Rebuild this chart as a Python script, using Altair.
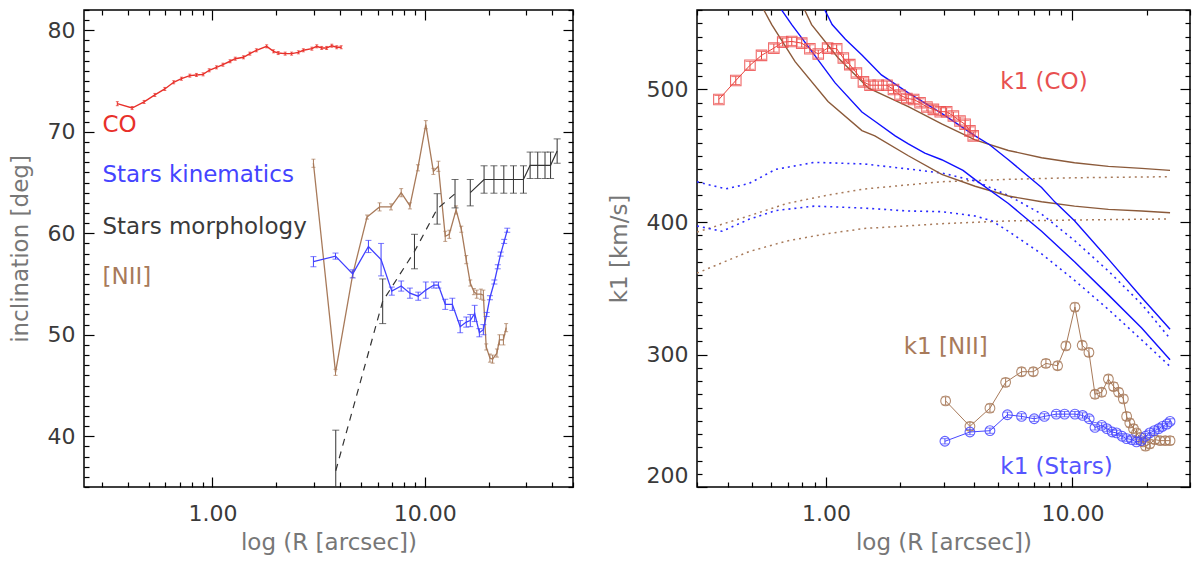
import pandas as pd
import altair as alt

FONT = "DejaVu Sans"

# ---------------- left panel : inclination ----------------
co_r = [0.356, 0.418, 0.476, 0.535, 0.596, 0.656, 0.714, 0.782, 0.840, 0.903, 0.965, 1.044,
        1.12, 1.21, 1.28, 1.40, 1.50, 1.61, 1.80, 1.94, 2.04, 2.20, 2.36, 2.54, 2.68, 2.94,
        3.10, 3.27, 3.45, 3.65, 3.85, 4.04]
co_inc = [72.77, 72.34, 72.94, 73.63, 74.22, 74.88, 75.23, 75.53, 75.60, 75.66, 76.06, 76.35,
          76.61, 76.95, 77.20, 77.34, 77.70, 78.03, 78.42, 77.93, 77.76, 77.70, 77.70, 77.83,
          78.03, 78.19, 78.42, 78.26, 78.26, 78.48, 78.33, 78.33]
co_err = [0.2, 0.15, 0.15, 0.15, 0.15, 0.15, 0.15, 0.15, 0.15, 0.15, 0.15, 0.15, 0.15, 0.15,
          0.15, 0.15, 0.15, 0.15, 0.15, 0.15, 0.15, 0.15, 0.15, 0.15, 0.15, 0.15, 0.15, 0.15,
          0.15, 0.15, 0.15, 0.15]

nii_r = [2.99, 3.80, 4.58, 5.35, 6.13, 6.94, 7.75, 8.52, 9.29, 10.12, 10.99, 11.6, 12.5, 13.06,
         14.06, 14.88, 15.7, 16.4, 17.06, 17.6, 18.4, 18.9, 19.5, 20.3, 20.9, 21.9, 22.5, 23.5, 24.2]
nii_inc = [66.9, 46.3, 55.95, 61.6, 62.6, 62.6, 64.0, 62.7, 66.45, 70.7, 66.1, 66.6, 59.7, 59.9,
           62.3, 60.4, 57.4, 55.1, 54.25, 54.0, 54.0, 53.9, 48.8, 47.7, 47.6, 48.2, 49.5, 49.5, 50.7]
nii_err = [0.4, 0.3, 0.3, 0.2, 0.4, 0.3, 0.4, 0.3, 0.3, 0.4, 0.3, 0.5, 0.5, 0.4, 0.4, 0.3, 0.4,
           0.3, 0.3, 0.4, 0.5, 0.5, 0.3, 0.4, 0.4, 0.4, 0.5, 0.5, 0.4]

kin_r = [2.99, 3.80, 4.58, 5.43, 6.23, 7.0, 7.75, 8.52, 9.32, 10.12, 11.05, 11.6, 12.5, 13.5,
         14.7, 15.7, 16.4, 17.2, 18.1, 18.9, 19.6, 20.3, 21.3, 22.1, 22.8, 23.7, 24.5]
kin_inc = [57.2, 57.75, 56.0, 58.7, 57.4, 54.3, 54.8, 54.1, 53.8, 54.4, 54.9, 54.9, 53.0, 53.0,
           50.8, 51.25, 51.4, 52.1, 50.2, 50.5, 52.0, 53.65, 55.2, 56.7, 57.95, 59.2, 60.3]
kin_err = [0.5, 0.3, 0.4, 0.6, 1.6, 0.4, 0.5, 0.5, 0.4, 0.8, 0.3, 0.3, 0.5, 0.6, 0.6, 0.5, 0.6,
           0.8, 0.4, 0.5, 0.2, 0.2, 0.2, 0.2, 0.2, 0.2, 0.2]

mor_r = [3.81, 6.34, 8.95, 11.45, 13.9, 16.4, 19.05, 21.2, 23.6, 26.2, 29.2, 31.4, 34.1, 36.9,
         39.2, 42.1]
mor_inc = [36.6, 53.3, 58.2, 62.4, 63.9, 64.0, 65.3, 65.3, 65.3, 65.3, 65.3, 66.7, 66.7, 66.7,
           66.7, 68.1]
mor_err = [4.0, 2.2, 1.7, 1.5, 1.4, 1.3, 1.35, 1.35, 1.35, 1.35, 1.35, 1.3, 1.3, 1.3, 1.3, 1.2]

left_labels = ["CO", "Stars kinematics", "Stars morphology", "[NII]"]
left_label_y = [70.7, 65.7, 60.6, 55.7]
left_label_col = ["#e8302a", "#4444ff", "#3a3a3a", "#a87a5a"]

# ---------------- right panel : k1 ----------------
kco_r = [0.368, 0.431, 0.492, 0.548, 0.615, 0.668, 0.727, 0.798, 0.861, 0.931, 1.016, 1.106,
         1.177, 1.25, 1.33, 1.42, 1.51, 1.63, 1.77, 1.88, 2.0, 2.13, 2.27, 2.41, 2.57, 2.73,
         2.91, 3.09, 3.29, 3.50, 3.67, 3.84, 3.96]
kco_v = [492.5, 506.75, 518.25, 525.75, 531.25, 535.75, 536.25, 535.0, 530.75, 526.75, 531.25,
         530.75, 523.75, 518.75, 512.5, 505.75, 503.25, 503.25, 503.25, 500.0, 495.75, 493.25,
         492.5, 490.0, 486.75, 485.0, 483.25, 483.25, 480.0, 476.25, 473.75, 468.75, 465.0]

knii_r = [3.06, 3.84, 4.63, 5.36, 6.22, 6.94, 7.81, 8.71, 9.41, 10.24, 10.96, 11.67, 12.35, 13.15,
          14.0, 14.7, 15.4, 16.1, 16.6, 17.1, 17.7, 18.2, 18.8, 19.4, 19.8, 20.6, 21.6, 22.7,
          23.8, 24.9]
knii_v = [265.0, 245.8, 259.5, 279.0, 287.0, 287.0, 293.3, 291.5, 306.5, 335.8, 307.0, 301.6,
          270.0, 271.5, 281.5, 275.8, 271.5, 266.5, 253.3, 248.3, 244.0, 240.8, 237.5, 234.0,
          230.8, 232.5, 235.8, 235.0, 235.0, 235.0]

kst_r = [3.04, 3.84, 4.63, 5.45, 6.22, 7.0, 7.7, 8.6, 9.3, 10.24, 11.0, 11.7, 12.35, 13.15, 13.8,
         14.5, 15.1, 15.9, 16.6, 17.4, 18.2, 19.0, 19.8, 20.6, 21.5, 22.4, 23.2, 24.2, 24.9]
kst_v = [234.5, 241.5, 242.5, 254.5, 253.3, 251.5, 253.3, 255.0, 255.0, 255.0, 254.0, 251.5,
         245.0, 246.5, 244.0, 241.5, 240.8, 238.3, 236.5, 235.8, 234.0, 235.0, 238.3, 240.8,
         242.5, 244.0, 245.8, 247.5, 249.5]

# model curves (solid)
bu_r = [0.99, 1.06, 1.2, 1.4, 1.68, 2.16, 2.95, 4.03, 4.6, 5.5, 7.5, 8.5, 10.2, 14.0, 19.1, 24.9]
bu_v = [560, 549, 538, 526, 511, 497.5, 482, 465, 458.5, 447, 426, 415, 401, 372, 343, 319]
bl_r = [0.65, 0.727, 0.875, 1.09, 1.4, 1.58, 1.91, 2.16, 2.52, 2.95, 3.6, 4.03, 5.5, 7.5, 10.2,
        14.0, 19.1, 24.9]
bl_v = [562, 549, 529, 505, 483, 476, 465, 459, 452, 447, 439, 432, 414, 393, 370, 345, 320, 296]
nu_r = [0.82, 0.875, 1.12, 1.49, 2.16, 2.95, 4.03, 5.5, 7.5, 10.2, 14.0, 19.1, 24.9]
nu_v = [560, 549, 524, 501, 487, 474, 462, 454, 448.5, 444.7, 442, 440.5, 439]
nl_r = [0.56, 0.603, 0.75, 1.02, 1.40, 1.58, 2.16, 2.95, 4.03, 5.5, 7.5, 10.2, 14.0, 19.1, 24.9]
nl_v = [560, 549, 521, 491, 469, 465, 450, 436, 427, 419.6, 415.3, 412, 409.5, 408.3, 407]

# model curves (dotted)
du_r = [0.3, 0.393, 0.487, 0.625, 0.897, 1.43, 2.16, 2.95, 4.03, 5.5, 7.5, 10.2, 14.0, 19.1, 24.9]
du_v = [430.3, 425.0, 429.0, 439.7, 445.0, 443.8, 440.0, 437.0, 431.0, 420.0, 406.0, 386.0, 363.0,
        338.0, 312.0]
dl_r = [0.3, 0.379, 0.487, 0.625, 0.897, 1.43, 2.16, 2.95, 4.03, 4.7, 5.5, 7.5, 10.2, 14.0, 19.1,
        24.9]
dl_v = [397.0, 393.0, 402.0, 408.6, 412.0, 410.5, 408.3, 407.8, 404.5, 401.0, 393.0, 376.0, 356.0,
        334.0, 311.0, 291.0]
ndu_r = [0.3, 0.487, 0.695, 1.0, 1.43, 2.95, 5.5, 10.2, 24.9]
ndu_v = [392.4, 404.6, 414.0, 420.0, 424.9, 430.4, 432.2, 433.4, 434.2]
ndl_r = [0.3, 0.487, 0.695, 1.0, 1.43, 2.95, 5.5, 10.2, 24.9]
ndl_v = [361.4, 377.6, 385.7, 391.0, 395.1, 398.7, 400.8, 401.5, 402.3]

right_labels = ["k1 (CO)", "k1 [NII]", "k1 (Stars)"]
right_label_r = [5.1, 2.07, 5.1]
right_label_v = [506, 306, 215]
right_label_col = ["#e85050", "#a87a5a", "#5555ff"]


def frame_ticks(xs, ys, x_major, x_minor, y_major, y_minor):
    # inward ticks on all four sides, drawn as offset axes with no labels
    layers = []
    one = pd.DataFrame({"x": [x_major[0]], "y": [y_major[0]]})
    for orient in ["bottom", "top"]:
        for vals, size in [(x_major, 10), (x_minor, 5)]:
            layers.append(alt.Chart(one).mark_point(opacity=0).encode(
                x=alt.X("x:Q", scale=xs, axis=alt.Axis(
                    orient=orient, values=vals, labels=False, domain=False, grid=False,
                    tickSize=size, offset=-size, tickColor="black", tickWidth=1.2, title=None)),
                y=alt.Y("y:Q", scale=ys, axis=None)))
    for orient in ["left", "right"]:
        for vals, size in [(y_major, 10), (y_minor, 5)]:
            layers.append(alt.Chart(one).mark_point(opacity=0).encode(
                x=alt.X("x:Q", scale=xs, axis=None),
                y=alt.Y("y:Q", scale=ys, axis=alt.Axis(
                    orient=orient, values=vals, labels=False, domain=False, grid=False,
                    tickSize=size, offset=-size, tickColor="black", tickWidth=1.2, title=None))))
    return layers


def label_axes(xs, ys, x_major, y_major, ytitle, flush):
    one = pd.DataFrame({"x": [x_major[0]], "y": [y_major[0]]})
    return [
        alt.Chart(one).mark_point(opacity=0).encode(
            x=alt.X("x:Q", scale=xs, axis=alt.Axis(
                orient="bottom", values=x_major, format=".2f", ticks=False, domain=False,
                grid=False, labelFontSize=22, labelColor="#3a3a3a", labelPadding=16,
                title="log (R [arcsec])", titleFontSize=23, titleFontWeight="normal",
                titleColor="#777777", titlePadding=7)),
            y=alt.Y("y:Q", scale=ys, axis=None)),
        alt.Chart(one).mark_point(opacity=0).encode(
            x=alt.X("x:Q", scale=xs, axis=None),
            y=alt.Y("y:Q", scale=ys, axis=alt.Axis(
                orient="left", values=y_major, format="d", ticks=False, domain=False,
                grid=False, labelFontSize=22, labelColor="#3a3a3a", labelPadding=9,
                labelFlush=flush, title=ytitle, titleFontSize=23, titleFontWeight="normal",
                titleColor="#777777", titlePadding=15))),
    ]


def series(r, v, err=None):
    df = pd.DataFrame({"r": r, "v": v})
    if err is not None:
        df["lo"] = df["v"] - pd.Series(err)
        df["hi"] = df["v"] + pd.Series(err)
    return df


def line(df, xs, ys, color, width=1.2, dash=None):
    kw = {"color": color, "strokeWidth": width, "clip": True}
    if dash:
        kw["strokeDash"] = dash
    return alt.Chart(df).mark_line(**kw).encode(
        x=alt.X("r:Q", scale=xs, axis=None),
        y=alt.Y("v:Q", scale=ys, axis=None),
        order="r:Q")


def errbars(df, xs, ys, color, cap=5):
    bar = alt.Chart(df).mark_rule(color=color, strokeWidth=1, clip=True).encode(
        x=alt.X("r:Q", scale=xs, axis=None),
        y=alt.Y("lo:Q", scale=ys, axis=None), y2="hi:Q")
    lo = alt.Chart(df).mark_tick(color=color, orient="horizontal", size=cap, thickness=1,
                                 clip=True).encode(
        x=alt.X("r:Q", scale=xs, axis=None), y=alt.Y("lo:Q", scale=ys, axis=None))
    hi = alt.Chart(df).mark_tick(color=color, orient="horizontal", size=cap, thickness=1,
                                 clip=True).encode(
        x=alt.X("r:Q", scale=xs, axis=None), y=alt.Y("hi:Q", scale=ys, axis=None))
    return [bar, lo, hi]


def texts(r, v, labels, colors, xs, ys):
    df = pd.DataFrame({"r": r, "v": v, "t": labels, "c": colors})
    return alt.Chart(df).mark_text(align="left", baseline="middle", fontSize=23).encode(
        x=alt.X("r:Q", scale=xs, axis=None),
        y=alt.Y("v:Q", scale=ys, axis=None),
        text="t:N",
        color=alt.Color("c:N", scale=None))


# ---------- left chart ----------
xs_l = alt.Scale(type="log", domain=[0.248, 50], nice=False)
ys_l = alt.Scale(domain=[35, 82], nice=False, zero=False)
x_minor_l = [0.3, 0.4, 0.5, 0.6, 0.7, 0.8, 0.9, 2, 3, 4, 5, 6, 7, 8, 9, 20, 30, 40, 50]
y_major_l = [40, 50, 60, 70, 80]
y_minor_l = [v for v in range(35, 83) if v % 10 != 0]

co = series(co_r, co_inc, co_err)
nii = series(nii_r, nii_inc, nii_err)
kin = series(kin_r, kin_inc, kin_err)
mor = series(mor_r, mor_inc, mor_err)

left_layers = (
    frame_ticks(xs_l, ys_l, [1, 10], x_minor_l, y_major_l, y_minor_l)
    + errbars(co, xs_l, ys_l, "#e8302a", 3)
    + [line(co, xs_l, ys_l, "#e8302a", 1.4)]
    + errbars(nii, xs_l, ys_l, "#a87a5a", 4)
    + [line(nii, xs_l, ys_l, "#a87a5a", 1.3)]
    + errbars(kin, xs_l, ys_l, "#4040ff", 6)
    + [line(kin, xs_l, ys_l, "#4040ff", 1.3)]
    + errbars(mor, xs_l, ys_l, "#333333", 7)
    + [line(mor.iloc[:5], xs_l, ys_l, "#333333", 1.2, [7, 6]),
       line(mor.iloc[5:], xs_l, ys_l, "#333333", 1.2)]
    + [texts([0.303] * 4, left_label_y, left_labels, left_label_col, xs_l, ys_l)]
    + label_axes(xs_l, ys_l, [1, 10], y_major_l, "inclination [deg]", False)
)
left = alt.layer(*left_layers).resolve_axis(x="independent", y="independent").properties(
    width=489, height=477)

# ---------- right chart ----------
xs_r = alt.Scale(type="log", domain=[0.3, 30], nice=False)
ys_r = alt.Scale(domain=[200, 560], nice=False, zero=False)
x_minor_r = [0.3, 0.4, 0.5, 0.6, 0.7, 0.8, 0.9, 2, 3, 4, 5, 6, 7, 8, 9, 20, 30]
y_major_r = [200, 300, 400, 500]
y_minor_r = [v for v in range(200, 561, 10) if v % 100 != 0]

kco = series(kco_r, kco_v, [3] * len(kco_r))
knii = series(knii_r, knii_v, [3] * len(knii_r))
kst = series(kst_r, kst_v, [2] * len(kst_r))


def markers(df, xs, ys, color, shape, size):
    return alt.Chart(df).mark_point(shape=shape, size=size, filled=False, color=color,
                                    strokeWidth=1.1, opacity=0.85, clip=True).encode(
        x=alt.X("r:Q", scale=xs, axis=None), y=alt.Y("v:Q", scale=ys, axis=None))


right_layers = (
    frame_ticks(xs_r, ys_r, [1, 10], x_minor_r, y_major_r, y_minor_r)
    + [line(series(ndu_r, ndu_v), xs_r, ys_r, "#a87a5a", 1.5, [2, 4]),
       line(series(ndl_r, ndl_v), xs_r, ys_r, "#a87a5a", 1.5, [2, 4]),
       line(series(du_r, du_v), xs_r, ys_r, "#2a2aff", 1.6, [2, 4]),
       line(series(dl_r, dl_v), xs_r, ys_r, "#2a2aff", 1.6, [2, 4]),
       line(series(nu_r, nu_v), xs_r, ys_r, "#8b5a3a", 1.4),
       line(series(nl_r, nl_v), xs_r, ys_r, "#8b5a3a", 1.4),
       line(series(bu_r, bu_v), xs_r, ys_r, "#1010ff", 1.4),
       line(series(bl_r, bl_v), xs_r, ys_r, "#1010ff", 1.4)]
    + [line(kco, xs_r, ys_r, "#e8403a", 1.0)]
    + errbars(kco, xs_r, ys_r, "#e8403a", 9)
    + [markers(kco, xs_r, ys_r, "#ee5050", "square", 110)]
    + [line(knii, xs_r, ys_r, "#a87a5a", 1.0)]
    + errbars(knii, xs_r, ys_r, "#a87a5a", 8)
    + [markers(knii, xs_r, ys_r, "#a87a5a", "circle", 95)]
    + [line(kst, xs_r, ys_r, "#4848ff", 1.0)]
    + errbars(kst, xs_r, ys_r, "#4848ff", 8)
    + [markers(kst, xs_r, ys_r, "#4848ff", "circle", 95)]
    + [texts(right_label_r, right_label_v, right_labels, right_label_col, xs_r, ys_r)]
    + label_axes(xs_r, ys_r, [1, 10], y_major_r, "k1 [km/s]", True)
)
right = alt.layer(*right_layers).resolve_axis(x="independent", y="independent").properties(
    width=493, height=477)

chart = alt.hconcat(left, right, spacing=32).properties(
    padding={"left": 0, "top": 0, "right": 0, "bottom": 0}
).configure(font=FONT).configure_view(stroke="black", strokeWidth=1.5)

chart.save("out.html", embed_options={"renderer": "svg", "actions": False})
